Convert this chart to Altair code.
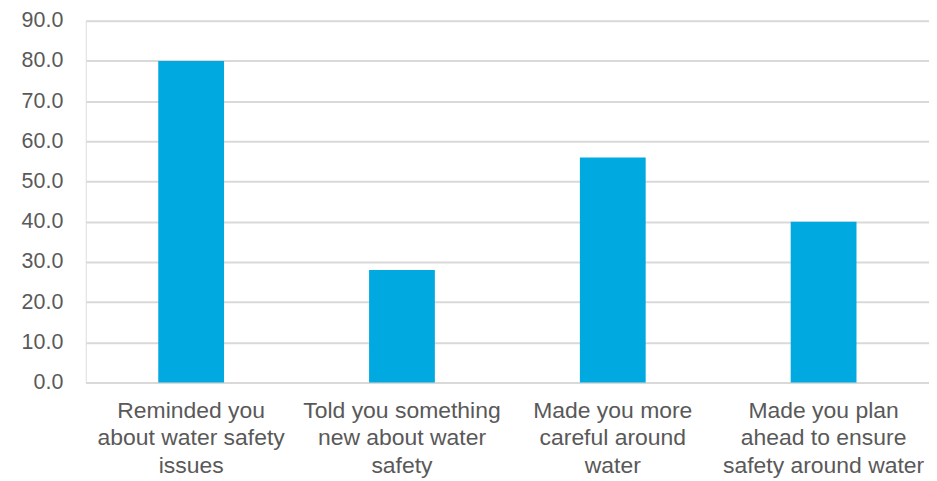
import altair as alt
import pandas as pd

categories = [
    "Reminded you|about water safety|issues",
    "Told you something|new about water|safety",
    "Made you more|careful around|water",
    "Made you plan|ahead to ensure|safety around water",
]
values = [80.0, 28.0, 56.0, 40.0]
y_ticks = [0, 10, 20, 30, 40, 50, 60, 70, 80, 90]

df = pd.DataFrame({"category": categories, "value": values})

chart = (
    alt.Chart(df)
    .mark_bar(size=66, color="#00A9E0")
    .encode(
        x=alt.X(
            "category:N",
            sort=categories,
            title=None,
            scale=alt.Scale(paddingInner=0, paddingOuter=0),
            axis=alt.Axis(
                labelAngle=0,
                labelExpr="split(datum.value, '|')",
                labelFont="Liberation Sans",
                labelFontSize=23,
                labelColor="#595959",
                labelLineHeight=27.5,
                labelPadding=17,
                labelBaseline="top",
                labelLimit=400,
                ticks=False,
                domain=True,
                domainColor="#D9D9D9",
                domainWidth=2,
                grid=False,
            ),
        ),
        y=alt.Y(
            "value:Q",
            title=None,
            scale=alt.Scale(domain=[0, 90], nice=False),
            axis=alt.Axis(
                values=y_ticks,
                format=".1f",
                labelFont="Liberation Sans",
                labelFontSize=21.5,
                labelColor="#595959",
                labelPadding=23,
                ticks=False,
                domain=False,
                grid=True,
                gridColor="#D9D9D9",
                gridWidth=2,
            ),
        ),
    )
    .properties(
        width=846,
        height=363,
        autosize=alt.AutoSizeParams(type="none"),
        padding={"left": 78, "top": 12, "right": 0, "bottom": 98},
    )
    .configure_view(stroke=None)
    .configure(background="white")
)

chart.save("out.html", embed_options={"renderer": "svg", "actions": False})
